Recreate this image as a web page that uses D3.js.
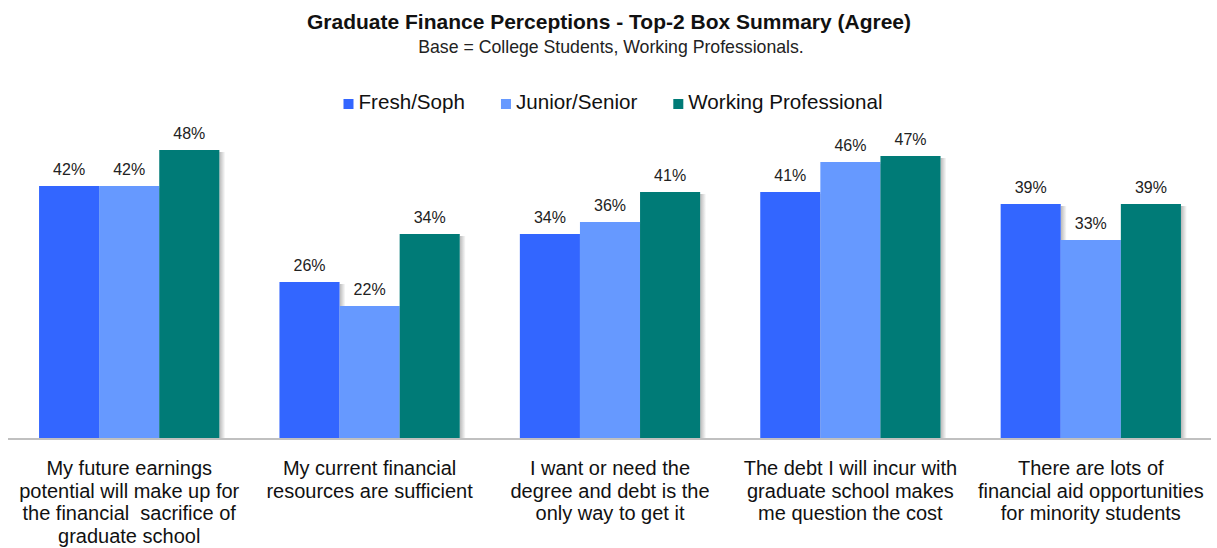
<!DOCTYPE html>
<html>
<head>
<meta charset="utf-8">
<script src="https://cdn.jsdelivr.net/npm/d3@7"></script>
<style>
  html, body { margin: 0; padding: 0; background: #fff; }
  svg { display: block; font-family: "Liberation Sans", Arial, sans-serif; }
</style>
</head>
<body>
<svg></svg>
<script>
let width = 1217;
let height = 548;

// chart data
let categories = ['c1', 'c2', 'c3', 'c4', 'c5'];
let categoryLabels = [
    ['My future earnings', 'potential will make up for', 'the financial  sacrifice of', 'graduate school'],
    ['My current financial', 'resources are sufficient'],
    ['I want or need the', 'degree and debt is the', 'only way to get it'],
    ['The debt I will incur with', 'graduate school makes', 'me question the cost'],
    ['There are lots of', 'financial aid opportunities', 'for minority students']
];
let seriesNames = ['Fresh/Soph', 'Junior/Senior', 'Working Professional'];
let seriesColors = ['#3366ff', '#6699ff', '#007b77'];
let freshSoph = [42, 26, 34, 41, 39];
let juniorSenior = [42, 22, 36, 46, 33];
let workingPro = [48, 34, 41, 47, 39];
let seriesValues = [freshSoph, juniorSenior, workingPro];

let svg = d3.select('svg')
    .attr('width', width)
    .attr('height', height);

// gradient for the little shadow to the right of each bar
let defs = svg.append('defs');
let grad = defs.append('linearGradient').attr('id', 'shadow');
grad.append('stop').attr('offset', '0%').attr('stop-color', '#000').attr('stop-opacity', 0.28);
grad.append('stop').attr('offset', '100%').attr('stop-color', '#000').attr('stop-opacity', 0);

// titles
svg.append('text')
    .attr('x', 609).attr('y', 29)
    .attr('text-anchor', 'middle')
    .style('font-size', '21px')
    .style('font-weight', 'bold')
    .attr('fill', '#111')
    .text('Graduate Finance Perceptions - Top-2 Box Summary (Agree)');

svg.append('text')
    .attr('x', 611).attr('y', 53)
    .attr('text-anchor', 'middle')
    .style('font-size', '17.7px')
    .attr('fill', '#222')
    .text('Base = College Students, Working Professionals.');

// scales
let x0 = d3.scaleBand()
    .domain(categories)
    .range([9, 1211]);

let x1 = d3.scaleBand()
    .domain(seriesNames)
    .range([x0.bandwidth() * 0.125, x0.bandwidth() * 0.875]);

let y = d3.scaleLinear()
    .domain([0, 50])
    .range([438, 138]);

// flatten into one record per bar
let bars = [];
categories.forEach((c, i) => {
    seriesNames.forEach((s, j) => {
        bars.push({ cat: c, series: s, value: seriesValues[j][i], color: seriesColors[j] });
    });
});

let groups = svg.append('g');

// shadows first so neighbouring bars cover them
groups.selectAll('rect.shadow')
    .data(bars)
    .enter()
    .append('rect')
    .classed('shadow', true)
    .attr('x', d => x0(d.cat) + x1(d.series) + x1.bandwidth())
    .attr('y', d => y(d.value) + 2)
    .attr('width', 6)
    .attr('height', d => y(0) - y(d.value) - 2)
    .attr('fill', 'url(#shadow)');

groups.selectAll('rect.bar')
    .data(bars)
    .enter()
    .append('rect')
    .classed('bar', true)
    .attr('x', d => x0(d.cat) + x1(d.series))
    .attr('y', d => y(d.value))
    .attr('width', x1.bandwidth())
    .attr('height', d => y(0) - y(d.value))
    .attr('fill', d => d.color);

// value labels
groups.selectAll('text.value')
    .data(bars)
    .enter()
    .append('text')
    .classed('value', true)
    .attr('x', d => x0(d.cat) + x1(d.series) + x1.bandwidth() / 2)
    .attr('y', d => y(d.value) - 11)
    .attr('text-anchor', 'middle')
    .style('font-size', '16px')
    .attr('fill', '#222')
    .text(d => d.value + '%');

// baseline
svg.append('line')
    .attr('x1', 8).attr('x2', 1211)
    .attr('y1', y(0) + 1).attr('y2', y(0) + 1)
    .attr('stroke', '#c0c0c0')
    .attr('stroke-width', 2);

// category labels
let catLabels = svg.selectAll('text.cat')
    .data(categories)
    .enter()
    .append('text')
    .classed('cat', true)
    .attr('x', d => x0(d) + x0.bandwidth() / 2)
    .attr('y', 475)
    .attr('text-anchor', 'middle')
    .style('font-size', '20px')
    .style('white-space', 'pre')
    .attr('fill', '#111');

catLabels.selectAll('tspan')
    .data((d, i) => categoryLabels[i])
    .enter()
    .append('tspan')
    .attr('x', function () { return d3.select(this.parentNode).attr('x'); })
    .attr('y', (d, i) => 475 + i * 22.6)
    .text(d => d);

// legend
let legend = svg.append('g');
let items = legend.selectAll('g.item')
    .data(seriesNames)
    .enter()
    .append('g')
    .classed('item', true);

items.append('rect')
    .attr('width', 10).attr('height', 10)
    .attr('y', 99)
    .attr('fill', (d, i) => seriesColors[i]);

items.append('text')
    .attr('x', 15)
    .attr('y', 109)
    .style('font-size', '20.6px')
    .attr('fill', '#111')
    .text(d => d);

// lay the legend items out side by side
let offsets = [];
let pos = 0;
items.each(function () {
    offsets.push(pos);
    let w = d3.select(this).select('text').node().getComputedTextLength();
    pos += 15 + w + 36;
});
let total = pos - 36;
let start = 613 - total / 2;
items.attr('transform', (d, i) => `translate(${start + offsets[i]}, 0)`);
</script>
</body>
</html>
